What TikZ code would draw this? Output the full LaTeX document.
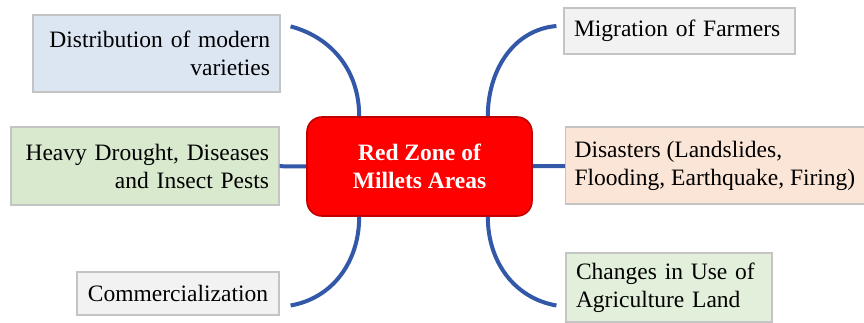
\documentclass[tikz,border=0pt]{standalone}
\usepackage{fontspec}
\setmainfont{Liberation Serif}
\begin{document}
\begin{tikzpicture}[x = 0.5pt, y = 0.5pt,
  leaf/.style = {draw = boxline, line width = 0.6pt, inner xsep = 5pt, inner ysep = 2pt, font = \fontsize{11.75}{14}\selectfont},
  hub/.style = {draw = hubline, fill = hubred, line width = 0.8pt, rounded corners = 7.5pt, text = white, align = center, font = \fontsize{11.75}{14}\selectfont\bfseries, minimum width = 112.5pt, minimum height = 49.5pt},
  link/.style = {draw = linkblue, line width = 2pt}]
\definecolor{boxline}{HTML}{C4C4C4}
\definecolor{hubline}{HTML}{C00000}
\definecolor{hubred}{HTML}{FF0000}
\definecolor{linkblue}{HTML}{3358A8}
\definecolor{distblue}{HTML}{DCE6F2}
\definecolor{pestgreen}{HTML}{D8E9CE}
\definecolor{landgreen}{HTML}{E2EFDA}
\definecolor{plaingray}{HTML}{F2F2F2}
\definecolor{peach}{HTML}{FBE5D6}
\useasboundingbox (0,0) rectangle (864,322);
\node[hub] (red) at (419.5,155.5) {Red Zone of\\Millets Areas};
\node[leaf, fill = distblue, text width = 113.5pt, align = right, minimum height = 38.5pt] (dist) at (156.5,268.5) {Distribution of modern\\varieties};
\node[leaf, fill = pestgreen, text width = 124pt, align = right, minimum height = 39pt] (heavy) at (145,156) {Heavy Drought, Diseases\\and Insect Pests};
\node[leaf, fill = plaingray, text width = 91pt, align = center, minimum height = 21.5pt] (comm) at (178,28.5) {Commercialization};
\node[leaf, fill = plaingray, text width = 105.5pt, align = left, minimum height = 23pt] (migr) at (679.5,291) {Migration of Farmers};
\node[leaf, fill = peach, anchor = west, inner xsep = 4.5pt, align = left, minimum height = 38.5pt] (disas) at (565,156.5) {Disasters (Landslides,\\Flooding, Earthquake, Firing)};
\node[leaf, fill = landgreen, text width = 93pt, align = left, minimum height = 34.5pt] (chang) at (669,34.5) {Changes in Use of\\Agriculture Land};
\draw[link] ([xshift = 5pt, yshift = -6pt]dist.north east) to[out = -15, in = 90] ([xshift = 26.5pt]red.north west);
\draw[link] ([xshift = -3.5pt, yshift = 2.5pt]migr.west) to[out = 185, in = 90] ([xshift = -22.5pt]red.north east);
\draw[link] (heavy) -- (red);
\draw[link] (red) -- (disas);
\draw[link] ([xshift = 26.5pt]red.south west) to[out = -90, in = 10] ([xshift = 5.5pt, yshift = -6pt]comm.east);
\draw[link] ([xshift = -22.5pt]red.south east) to[out = -90, in = 170] ([xshift = -4.5pt, yshift = -9pt]chang.west);
\end{tikzpicture}
\end{document}
